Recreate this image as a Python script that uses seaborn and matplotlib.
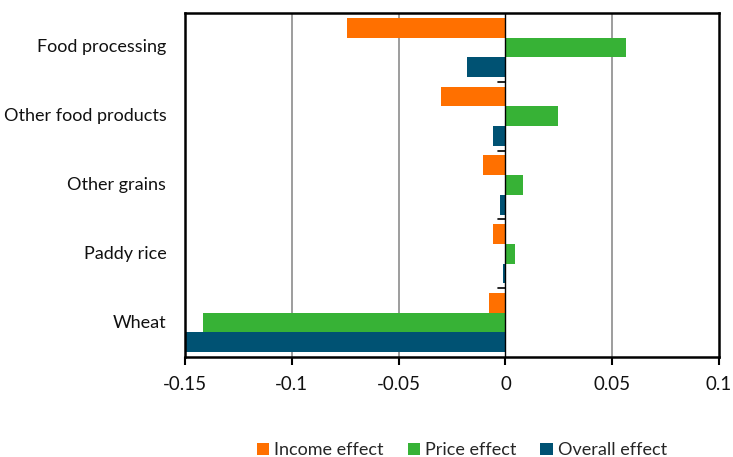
import numpy as np
import pandas as pd
import matplotlib
matplotlib.use("Agg")
import matplotlib.pyplot as plt
import seaborn as sns

# Sectors and the three decomposed effects
sectors = ["Food processing", "Other food products", "Other grains", "Paddy rice", "Wheat"]
income_effect = [-0.074, -0.0304, -0.0105, -0.0058, -0.0079]
price_effect = [0.0564, 0.0245, 0.0081, 0.0043, -0.1417]
overall_effect = [-0.0179, -0.0059, -0.0024, -0.0013, -0.150]
series_names = ["Income effect", "Price effect", "Overall effect"]
x_ticks = [-0.15, -0.1, -0.05, 0, 0.05, 0.1]
x_tick_labels = ["-0.15", "-0.1", "-0.05", "0", "0.05", "0.1"]

colors = ["#FF7000", "#37B236", "#005273"]

sns.set_theme(style="white")
plt.rcParams["font.family"] = ["Lato", "DejaVu Sans"]

df = pd.DataFrame({
    "sector": sectors * 3,
    "effect": [series_names[0]] * 5 + [series_names[1]] * 5 + [series_names[2]] * 5,
    "value": income_effect + price_effect + overall_effect,
})

fig, ax = plt.subplots(figsize=(7.33, 4.57), dpi=100)
fig.subplots_adjust(left=0.2524, right=0.981, top=0.9716, bottom=0.2188)

sns.barplot(data=df, y="sector", x="value", hue="effect", order=sectors,
            hue_order=series_names, palette=colors, orient="h", width=0.86,
            saturation=1, errorbar=None, ax=ax, linewidth=0)

ax.set_xlim(-0.15, 0.1)
ax.set_ylim(len(sectors) - 0.5, -0.5)
ax.set_xticks(x_ticks)
ax.set_xticklabels(x_tick_labels, fontsize=13.5, color="#111111")
ax.tick_params(axis="x", direction="out", length=6, width=1.5, color="black", pad=8, bottom=True)
ax.tick_params(axis="y", length=0, pad=13.5, labelsize=13, labelcolor="#111111")
for lbl in ax.get_yticklabels():
    lbl.set_va("center")
ax.set_xlabel("")
ax.set_ylabel("")

# vertical gridlines
for xv in x_ticks[1:-1]:
    if xv != 0:
        ax.axvline(xv, color="#8c8c8c", lw=1.2, zorder=0)
ax.axvline(0, color="black", lw=1.0, zorder=3)

# category separator ticks on the zero line
for b in np.arange(len(sectors) - 1) + 0.5:
    ax.plot([-0.0035, 0], [b, b], color="black", lw=1.2, zorder=3)

for s in ax.spines.values():
    s.set_color("black")
    s.set_linewidth(1.8)

handles, labels = ax.get_legend_handles_labels()
ax.legend(handles, labels, loc="lower center", bbox_to_anchor=(0.518, -0.315),
          ncol=3, frameon=False, fontsize=13, handlelength=0.7, handleheight=0.7,
          handletextpad=0.25, columnspacing=1.35, borderaxespad=0)

fig.savefig("out.png", dpi=100)
